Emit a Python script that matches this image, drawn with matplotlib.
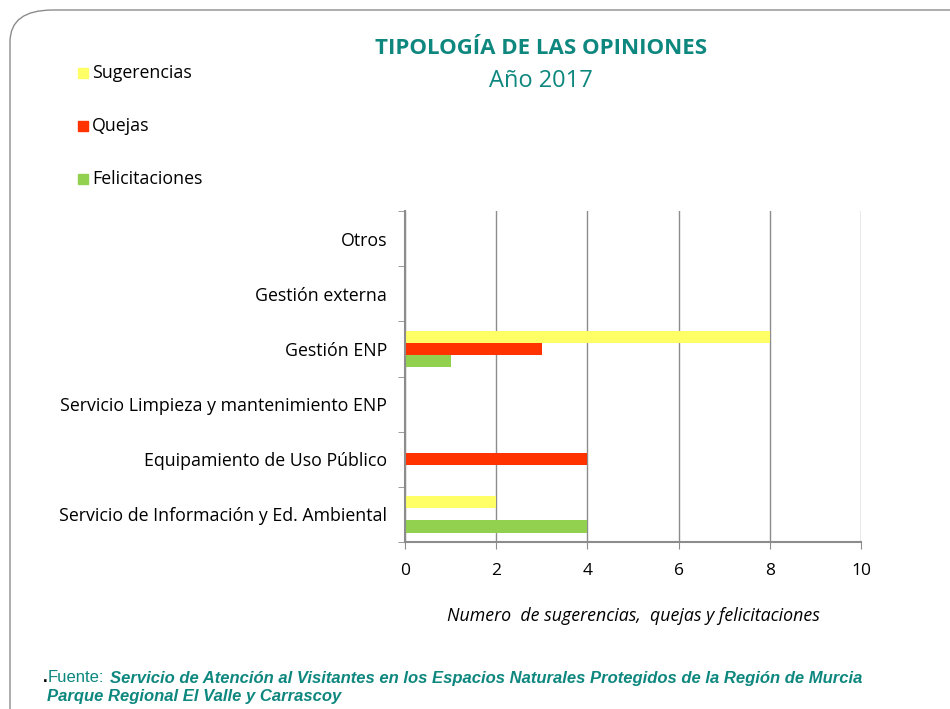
import matplotlib
matplotlib.use("Agg")
import matplotlib.pyplot as plt
import numpy as np
from matplotlib.patches import FancyBboxPatch, Rectangle

categories = ["Servicio de Información y Ed. Ambiental",
              "Equipamiento de Uso Público",
              "Servicio Limpieza y mantenimiento ENP",
              "Gestión ENP",
              "Gestión externa",
              "Otros"]
series_names = ["Sugerencias", "Quejas", "Felicitaciones"]
sugerencias = [2, 0, 0, 8, 0, 0]
quejas = [0, 4, 0, 3, 0, 0]
felicitaciones = [4, 0, 0, 1, 0, 0]
colors = ["#FFFF66", "#FF3300", "#92D050"]
xticks = [0, 2, 4, 6, 8, 10]

teal = "#0E877F"
plt.rcParams["font.family"] = ["Open Sans", "DejaVu Sans"]

fig = plt.figure(figsize=(9.5, 7.09), dpi=100)

# rounded frame, open to the right and bottom
frame = FancyBboxPatch((10 / 950, -0.2), 1.3, 1.2 - 10 / 709,
                       boxstyle="round,pad=0,rounding_size=0.045",
                       transform=fig.transFigure, fill=False,
                       edgecolor="#8c8c8c", linewidth=1.0)
fig.patches.append(frame)

ax = fig.add_axes([405 / 950, 1 - 542 / 709, (861 - 405) / 950, (542 - 211) / 709])
y = np.arange(len(categories))
h = 0.22
for vals, off, c, name in zip([sugerencias, quejas, felicitaciones], [h, 0, -h], colors, series_names):
    ax.barh(y + off, vals, height=h, color=c, label=name, zorder=3)

ax.set_xlim(0, 10)
ax.set_ylim(-0.5, len(categories) - 0.5)
ax.set_xticks(xticks)
ax.set_xticklabels([str(t) for t in xticks], fontsize=12.5)
ax.set_yticks(y)
ax.set_yticklabels(categories, fontsize=12.8)
ax.set_yticks(np.arange(-0.5, len(categories)), minor=True)
ax.tick_params(axis="y", which="major", length=0, pad=13)
ax.tick_params(axis="y", which="minor", length=5, color="#8c8c8c")
ax.tick_params(axis="x", length=5, color="#8c8c8c", pad=10)
ax.grid(axis="x", color="#8c8c8c", linewidth=1.0, zorder=0)
for s in ["top", "right"]:
    ax.spines[s].set_visible(False)
for s in ["left", "bottom"]:
    ax.spines[s].set_color("#8c8c8c")
    ax.spines[s].set_linewidth(1.5)
    ax.spines[s].set_zorder(4)
ax.set_xlabel("Numero  de sugerencias,  quejas y felicitaciones", fontsize=12.8,
              style="italic", labelpad=20)

# legend (manual, top-left)
for i, (name, c) in enumerate(zip(series_names, colors)):
    yy = 1 - (73 + 53 * i) / 709
    fig.patches.append(Rectangle((78 / 950, yy - 5 / 709), 10 / 950, 10 / 709,
                                 transform=fig.transFigure, color=c))
    fig.text(92 / 950, yy, name, fontsize=12.8, va="center", ha="left")

fig.text(541 / 950, 1 - 49 / 709, "TIPOLOGÍA DE LAS OPINIONES", color=teal,
         fontsize=16, fontweight="bold", ha="center", va="center")
fig.text(541 / 950, 1 - 81 / 709, "Año 2017", color=teal,
         fontsize=17, ha="center", va="center")

# footer
foot = "Liberation Sans"
fig.text(43 / 950, 1 - 678 / 709, ".", fontsize=12, color="black", fontweight="bold",
         va="center", family=foot)
fig.text(48 / 950, 1 - 678 / 709, "Fuente:", fontsize=12, color=teal,
         va="center", family=foot)
fig.text(110 / 950, 1 - 678 / 709,
         "Servicio de Atención al Visitantes en los Espacios Naturales Protegidos de la Región de Murcia",
         fontsize=12, color=teal, fontweight="bold", style="italic", va="center", family=foot)
fig.text(47 / 950, 1 - 697 / 709, "Parque Regional El Valle y Carrascoy",
         fontsize=12, color=teal, fontweight="bold", style="italic", va="center", family=foot)

fig.savefig("out.png", dpi=100)
